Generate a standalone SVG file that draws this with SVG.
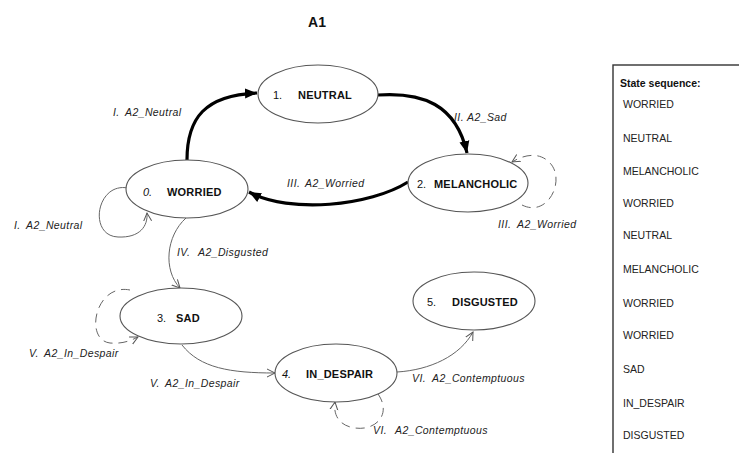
<svg xmlns="http://www.w3.org/2000/svg" width="739" height="453" viewBox="0 0 739 453">
<style>
.node ellipse{fill:#fff;stroke:#555;stroke-width:1.1}
.nm{font-family:"Liberation Sans",Arial,sans-serif;font-size:11px;fill:#111}
.nb{font-weight:bold;letter-spacing:0.2px}
.it{font-style:italic}
.lbl{font-family:"Liberation Sans",Arial,sans-serif;font-size:10.5px;font-style:italic;fill:#222;letter-spacing:0.4px}
.thick{fill:none;stroke:#000;stroke-width:3.2}
.thin{fill:none;stroke:#666;stroke-width:1}
.dash{fill:none;stroke:#666;stroke-width:1;stroke-dasharray:9 6}
.seq{font-family:"Liberation Sans",Arial,sans-serif;font-size:10.5px;fill:#222}
</style>
<defs>
<marker id="ah" markerUnits="userSpaceOnUse" markerWidth="14" markerHeight="12" refX="12" refY="6" orient="auto">
<path d="M0,1 L12,6 L0,11 Z" fill="#000"/>
</marker>
<marker id="av" markerUnits="userSpaceOnUse" markerWidth="10" markerHeight="10" refX="8" refY="5" orient="auto">
<path d="M0,1 L8,5 L0,9" fill="none" stroke="#555" stroke-width="1"/>
</marker>
</defs>
<rect width="739" height="453" fill="#fff"/>
<text x="317" y="27" text-anchor="middle" style="font-family:'Liberation Sans',Arial,sans-serif;font-size:14px;font-weight:bold;fill:#111">A1</text>

<g id="connectors">
<path class="thick" d="M187,160 C187,118 205,95 257,93" marker-end="url(#ah)"/>
<path class="thick" d="M378,95 C422,92 456,104 467,153" marker-end="url(#ah)"/>
<path class="thick" d="M408,182 C370,206 290,214 249,192" marker-end="url(#ah)"/>
<path class="thin" d="M128,188 C96,182 88,236 118,237 C140,238 148,226 147,213" marker-end="url(#av)"/>
<path class="thin" d="M186,218 C166,236 163,270 180,288" marker-end="url(#av)"/>
<path class="dash" d="M130,290 C95,283 84,340 110,343 C122,344 130,341 138,337" marker-end="url(#av)"/>
<path class="thin" d="M182,345 C200,368 230,373 275,373" marker-end="url(#av)"/>
<path class="thin" d="M397,372 C430,370 460,356 473,332" marker-end="url(#av)"/>
<path class="dash" d="M378,394 C392,414 376,431 355,428 C340,426 333,416 335,402" marker-end="url(#av)"/>
<path class="dash" d="M522,205 C548,218 566,180 550,163 C540,152 525,154 512,162" marker-end="url(#av)"/>
</g>

<g id="edge-labels">
<text class="lbl" y="116"><tspan x="113">I.</tspan><tspan x="125">A2_Neutral</tspan></text>
<text class="lbl" y="121"><tspan x="454">II.</tspan><tspan x="467">A2_Sad</tspan></text>
<text class="lbl" y="187"><tspan x="287">III.</tspan><tspan x="305">A2_Worried</tspan></text>
<text class="lbl" y="229"><tspan x="14">I.</tspan><tspan x="26">A2_Neutral</tspan></text>
<text class="lbl" y="228"><tspan x="498">III.</tspan><tspan x="517">A2_Worried</tspan></text>
<text class="lbl" y="256"><tspan x="177">IV.</tspan><tspan x="198">A2_Disgusted</tspan></text>
<text class="lbl" y="357"><tspan x="29">V.</tspan><tspan x="44">A2_In_Despair</tspan></text>
<text class="lbl" y="387"><tspan x="150">V.</tspan><tspan x="165">A2_In_Despair</tspan></text>
<text class="lbl" y="382"><tspan x="412">VI.</tspan><tspan x="432">A2_Contemptuous</tspan></text>
<text class="lbl" y="434"><tspan x="373">VI.</tspan><tspan x="395">A2_Contemptuous</tspan></text>
</g>

<g id="n1" class="node"><ellipse cx="318" cy="94" rx="60" ry="29"/>
<text class="nm" y="99"><tspan x="273">1.</tspan><tspan class="nb" x="298">NEUTRAL</tspan></text></g>
<g id="n0" class="node"><ellipse cx="187" cy="189" rx="61" ry="29"/>
<text class="nm" y="196"><tspan class="it" x="143">0.</tspan><tspan class="nb" x="167">WORRIED</tspan></text></g>
<g id="n2" class="node"><ellipse cx="468" cy="183" rx="60" ry="29"/>
<text class="nm" y="188"><tspan x="417">2.</tspan><tspan class="nb" x="434">MELANCHOLIC</tspan></text></g>
<g id="n3" class="node"><ellipse cx="181" cy="316" rx="61" ry="28"/>
<text class="nm" y="322"><tspan x="157">3.</tspan><tspan class="nb" x="176">SAD</tspan></text></g>
<g id="n4" class="node"><ellipse cx="336" cy="373" rx="61" ry="29"/>
<text class="nm" y="378"><tspan class="it" x="282">4.</tspan><tspan class="nb" x="306">IN_DESPAIR</tspan></text></g>
<g id="n5" class="node"><ellipse cx="474" cy="301" rx="61" ry="29"/>
<text class="nm" y="306"><tspan x="427">5.</tspan><tspan class="nb" x="452">DISGUSTED</tspan></text></g>

<g id="sequence">
<rect x="613" y="65" width="200" height="420" fill="none" stroke="#333" stroke-width="1.4"/>
<text class="seq" x="620" y="87" style="font-weight:bold;fill:#111">State sequence:</text>
<text class="seq" x="623" y="108">WORRIED</text>
<text class="seq" x="623" y="142">NEUTRAL</text>
<text class="seq" x="623" y="175">MELANCHOLIC</text>
<text class="seq" x="623" y="207">WORRIED</text>
<text class="seq" x="623" y="239">NEUTRAL</text>
<text class="seq" x="623" y="273">MELANCHOLIC</text>
<text class="seq" x="623" y="307">WORRIED</text>
<text class="seq" x="623" y="339">WORRIED</text>
<text class="seq" x="623" y="373">SAD</text>
<text class="seq" x="623" y="407">IN_DESPAIR</text>
<text class="seq" x="623" y="439">DISGUSTED</text>
</g>
</svg>
